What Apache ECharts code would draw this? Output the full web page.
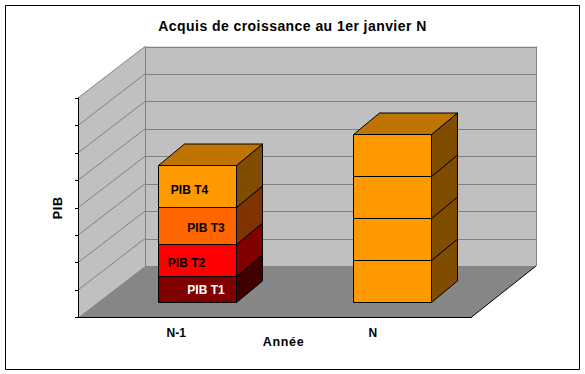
<!DOCTYPE html>
<html>
<head>
<meta charset="utf-8">
<style>
html,body{margin:0;padding:0;background:#fff}
#c{width:585px;height:374px}
/* the reference's text is tracked out: each size has its own spacing */
#c text[style*="14px"]{letter-spacing:.44px}
#c text[style*="12.5px"]{letter-spacing:.7px}
</style>
<script src="https://cdn.jsdelivr.net/npm/echarts@6/dist/echarts.min.js"></script>
</head>
<body>
<div id="c"></div>
<script>
const title = 'Acquis de croissance au 1er janvier N';
const xName = 'Année';
const yName = 'PIB';
const categories = ['N-1', 'N'];
const seriesNames = ['PIB T1', 'PIB T2', 'PIB T3', 'PIB T4'];
const pibT1 = [0.93, 1.53];
const pibT2 = [1.18, 1.53];
const pibT3 = [1.35, 1.53];
const pibT4 = [1.50, 1.53];
const yTicks = [0, 1, 2, 3, 4, 5, 6, 7, 8];

// styling of the 3D look, kept apart from the data
const seriesValues = [pibT1, pibT2, pibT3, pibT4];
const frontColors = [
  ['#800000', '#ff9900'],
  ['#ff0000', '#ff9900'],
  ['#ff6600', '#ff9900'],
  ['#ff9900', '#ff9900']
];
const sideColors = [
  ['#400000', '#804d00'],
  ['#800000', '#804d00'],
  ['#803300', '#804d00'],
  ['#804d00', '#804d00']
];
const topColor = '#bf7300';
const labelColors = ['#fff', '#000', '#000', '#000'];
const labelShift = [[8.5, 0], [-11, 2.5], [8.5, 2], [-8, 3]];
const wallDx = [67, 65], wallDy = -51.5;
const barShiftX = [20.7, 19.5], barShiftY = -16, barDepth = [26, -21.5];
const barFrac = 0.395;
const font = '"Liberation Sans", Arial, sans-serif';

function poly(points, fill, stroke) {
  return {
    type: 'polygon',
    shape: { points: points },
    style: { fill: fill, stroke: stroke || null, lineWidth: 1 }
  };
}
function renderWalls(params, api) {
  const g = params.coordSys;
  const x0 = g.x, x1 = g.x + g.width, yb = g.y + g.height, yt = g.y;
  const bl = x0 + wallDx[0], br = x1 + wallDx[1];
  const kids = [
    poly([[x0, yb], [bl, yb + wallDy], [bl, yt + wallDy], [x0, yt]], '#c0c0c0'),
    poly([[bl, yb + wallDy], [br, yb + wallDy], [br, yt + wallDy], [bl, yt + wallDy]], '#c0c0c0'),
    poly([[x0, yb], [x1, yb], [br, yb + wallDy], [bl, yb + wallDy]], '#868686')
  ];
  const line = (a, b, c) => ({
    type: 'line',
    shape: { x1: a[0], y1: a[1], x2: b[0], y2: b[1] },
    style: { stroke: c, lineWidth: 1 }
  });
  yTicks.forEach(function (t) {
    const y = api.coord([0, t])[1];
    if (t > 0) {
      kids.push(line([x0, y], [bl, y + wallDy], '#808080'));
      kids.push(line([bl, Math.round(y + wallDy) + .5], [br, Math.round(y + wallDy) + .5], '#808080'));
    }
  });
  kids.push(line([bl + .5, yb + wallDy], [bl + .5, yt + wallDy], '#808080'));
  kids.push(line([br + .5, yb + wallDy], [br + .5, yt + wallDy], '#808080'));
  kids.push(line([x1, yb], [br, yb + wallDy], '#000'));
  return { type: 'group', children: kids };
}
function renderBar(si) {
  return function (params, api) {
    const cat = api.value(0);
    const base = api.coord([cat, api.value(1)]);
    const top = api.coord([cat, api.value(2)]);
    const w = api.size([1, 0])[0] * barFrac;
    const xl = Math.round(base[0] + barShiftX[cat] - w / 2) + .5;
    const xr = xl + Math.round(w);
    const yb = Math.round(base[1] + barShiftY) + .5;
    const yt = Math.round(top[1] + barShiftY) + .5;
    const dx = barDepth[0], dy = barDepth[1];
    const kids = [
      poly([[xl, yb], [xr, yb], [xr, yt], [xl, yt]], frontColors[si][cat], '#000'),
      poly([[xr, yb], [xr + dx, yb + dy], [xr + dx, yt + dy], [xr, yt]], sideColors[si][cat], '#000')
    ];
    if (si === seriesNames.length - 1) {
      kids.push(poly([[xl, yt], [xr, yt], [xr + dx, yt + dy], [xl + dx, yt + dy]], topColor, '#000'));
    }
    if (cat === 0) {
      kids.push({
        type: 'text',
        style: {
          text: seriesNames[si],
          x: (xl + xr) / 2 + labelShift[si][0],
          y: (yb + yt) / 2 + labelShift[si][1],
          align: 'center', verticalAlign: 'middle',
          font: 'bold 12px ' + font,
          fill: labelColors[si]
        }
      });
    }
    return { type: 'group', children: kids };
  };
}
const barSeries = seriesNames.map(function (name, si) {
  return {
    type: 'custom', name: name, z: 5, silent: true,
    encode: { x: 0, y: [1, 2] },
    renderItem: renderBar(si),
    data: categories.map(function (c, ci) {
      let base = 0;
      for (let k = 0; k < si; k++) base += seriesValues[k][ci];
      return [ci, base, base + seriesValues[si][ci]];
    })
  };
});
const chart = echarts.init(document.getElementById('c'), null, { renderer: 'svg', width: 585, height: 374 });
chart.setOption({
  animation: false,
  backgroundColor: '#fff',
  title: {
    text: title, left: 292.5, top: 19, textAlign: 'center',
    textStyle: { fontFamily: font, fontSize: 14, fontWeight: 'bold', color: '#000' },
    padding: 0
  },
  grid: { left: 78, right: 114, top: 98, bottom: 56.5 },
  graphic: [{
    type: 'rect', z: -10, silent: true,
    shape: { x: 5.5, y: 5.5, width: 574, height: 364 },
    style: { fill: 'none', stroke: '#000', lineWidth: 1 }
  }],
  xAxis: {
    type: 'category', data: categories, z: 4,
    name: xName, nameLocation: 'middle', nameGap: 18, nameMoveOverlap: false,
    nameTextStyle: { fontFamily: font, fontSize: 12.5, fontWeight: 'bold', color: '#000', padding: [0, 0, 0, 18] },
    axisLine: { lineStyle: { color: '#000', width: 1 } },
    axisTick: { length: 3, lineStyle: { color: '#000' } },
    axisLabel: { fontFamily: font, fontSize: 12, fontWeight: 'bold', color: '#000', margin: 9 },
    splitLine: { show: false }
  },
  yAxis: {
    type: 'value', min: 0, max: 8, interval: 1, z: 4,
    name: yName, nameLocation: 'middle', nameGap: 14, nameRotate: 90,
    nameTextStyle: { fontFamily: font, fontSize: 12.5, fontWeight: 'bold', color: '#000' },
    axisLine: { show: true, lineStyle: { color: '#000', width: 1 } },
    axisTick: { show: true, length: 3, lineStyle: { color: '#000' } },
    axisLabel: { show: false },
    splitLine: { show: false }
  },
  series: [{
    type: 'custom', z: 1, silent: true,
    encode: { x: 0, y: 1 },
    renderItem: renderWalls,
    data: [[0, 0]]
  }].concat(barSeries)
});
</script>
</body>
</html>
